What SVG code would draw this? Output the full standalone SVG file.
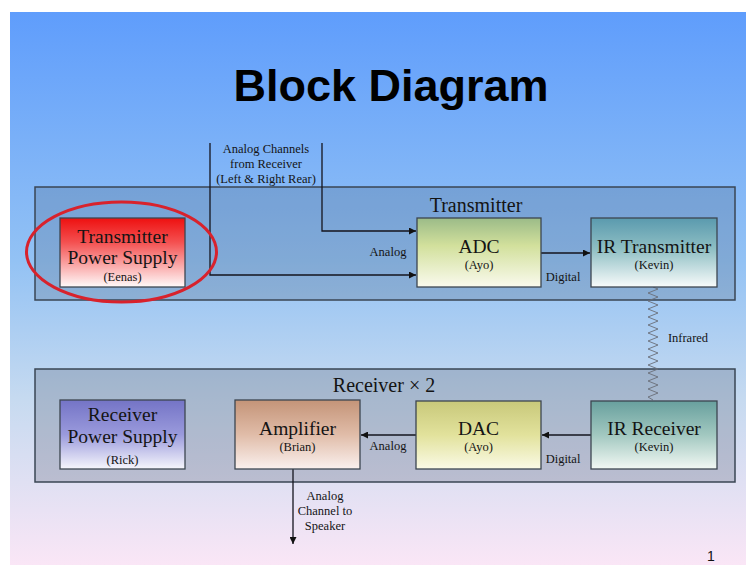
<svg xmlns="http://www.w3.org/2000/svg" width="746" height="565" viewBox="0 0 746 565">
<defs>
<linearGradient id="bg" x1="0" y1="0" x2="0" y2="1">
<stop offset="0" stop-color="#5f9dfc"/>
<stop offset="0.45" stop-color="#93c2f4"/>
<stop offset="0.7" stop-color="#c6daf0"/>
<stop offset="1" stop-color="#fae6f6"/>
</linearGradient>
<linearGradient id="gTPS" x1="0" y1="0" x2="0" y2="1">
<stop offset="0" stop-color="#ee1010"/>
<stop offset="0.35" stop-color="#f45050"/>
<stop offset="1" stop-color="#fffafa"/>
</linearGradient>
<linearGradient id="gADC" x1="0" y1="0" x2="0" y2="1">
<stop offset="0" stop-color="#9bbb88"/>
<stop offset="0.4" stop-color="#d2e09c"/>
<stop offset="1" stop-color="#fafaee"/>
</linearGradient>
<linearGradient id="gIRT" x1="0" y1="0" x2="0" y2="1">
<stop offset="0" stop-color="#5a9aae"/>
<stop offset="0.45" stop-color="#8fbfc4"/>
<stop offset="1" stop-color="#f8fbfb"/>
</linearGradient>
<linearGradient id="gRPS" x1="0" y1="0" x2="0" y2="1">
<stop offset="0" stop-color="#7474c6"/>
<stop offset="0.5" stop-color="#9a9adc"/>
<stop offset="1" stop-color="#f6f6fc"/>
</linearGradient>
<linearGradient id="gAMP" x1="0" y1="0" x2="0" y2="1">
<stop offset="0" stop-color="#c49478"/>
<stop offset="0.5" stop-color="#e0bca8"/>
<stop offset="1" stop-color="#faf0ee"/>
</linearGradient>
<linearGradient id="gDAC" x1="0" y1="0" x2="0" y2="1">
<stop offset="0" stop-color="#c8c87a"/>
<stop offset="0.5" stop-color="#e2e29c"/>
<stop offset="1" stop-color="#fafae6"/>
</linearGradient>
<linearGradient id="gIRR" x1="0" y1="0" x2="0" y2="1">
<stop offset="0" stop-color="#68a09e"/>
<stop offset="0.5" stop-color="#a2c8c0"/>
<stop offset="1" stop-color="#f2f8f4"/>
</linearGradient>
<marker id="ah" viewBox="0 0 10 10" refX="10" refY="5" markerWidth="7" markerHeight="7" markerUnits="userSpaceOnUse" orient="auto">
<path d="M0,0 L10,5 L0,10 z" fill="#111"/>
</marker>
<style>
.blk{stroke:#3c4650;stroke-width:1.3}
.grp{stroke:#3a4654;stroke-width:1.5}
.t{font-family:"Liberation Serif",serif;fill:#141414;text-anchor:middle}
.big{font-size:19.5px}
.sm{font-size:12.5px}
.lb{font-size:12.5px}
.grpt{font-size:20px}
.ln{fill:none;stroke:#14141e;stroke-width:1.3}
</style>
</defs>
<rect x="0" y="0" width="746" height="565" fill="#ffffff"/>
<rect x="10" y="12" width="736" height="553" fill="url(#bg)"/>
<text x="391" y="101" font-family="Liberation Sans, Arial, sans-serif" font-weight="bold" font-size="45" text-anchor="middle" fill="#000">Block Diagram</text>
<text x="711" y="561" font-family="Liberation Sans, Arial, sans-serif" font-size="14" text-anchor="middle" fill="#111">1</text>

<g id="transmitter-group">
<rect class="grp" x="35" y="187" width="700" height="113" fill="#3a4a60" fill-opacity="0.2"/>
<text class="t grpt" x="476" y="212">Transmitter</text>
</g>
<g id="receiver-group">
<rect class="grp" x="35" y="369" width="700" height="113" fill="#4a5468" fill-opacity="0.25"/>
<text class="t grpt" x="384" y="392">Receiver × 2</text>
</g>

<g id="connectors">
<polyline class="ln" points="210,143 210,275 416,275" marker-end="url(#ah)"/>
<polyline class="ln" points="322,143 322,231 416,231" marker-end="url(#ah)"/>
<line class="ln" x1="541" y1="253" x2="590" y2="253" marker-end="url(#ah)"/>
<line class="ln" x1="591" y1="435" x2="542" y2="435" marker-end="url(#ah)"/>
<line class="ln" x1="416" y1="435" x2="361" y2="435" marker-end="url(#ah)"/>
<line class="ln" x1="293" y1="469" x2="293" y2="544" marker-end="url(#ah)"/>
<polyline fill="none" stroke="#6a6e78" stroke-width="0.9" points="653,287 658,289 648,293 658,297 648,301 658,305 648,309 658,313 648,317 658,321 648,325 658,329 648,333 658,337 648,341 658,345 648,349 658,353 648,357 658,361 648,365 658,369 648,373 658,377 648,381 658,385 648,389 658,393 648,397 653,400"/>
<text class="t lb" x="266" y="153">Analog Channels</text>
<text class="t lb" x="266" y="168">from Receiver</text>
<text class="t lb" x="266" y="183">(Left &amp; Right Rear)</text>
<text class="t lb" x="388" y="256">Analog</text>
<text class="t lb" x="563" y="281">Digital</text>
<text class="t lb" x="688" y="342">Infrared</text>
<text class="t lb" x="563" y="463">Digital</text>
<text class="t lb" x="388" y="450">Analog</text>
<text class="t lb" x="325" y="500">Analog</text>
<text class="t lb" x="325" y="515">Channel to</text>
<text class="t lb" x="325" y="530">Speaker</text>
</g>

<g id="tx-power">
<rect class="blk" x="60" y="218" width="125" height="69" fill="url(#gTPS)"/>
<text class="t big" x="122.5" y="243">Transmitter</text>
<text class="t big" x="122.5" y="264">Power Supply</text>
<text class="t sm" x="122.5" y="281">(Eenas)</text>
<ellipse cx="121.5" cy="252" rx="95" ry="50" fill="none" stroke="#d8222c" stroke-width="3"/>
</g>
<g id="adc">
<rect class="blk" x="417" y="218" width="124" height="69" fill="url(#gADC)"/>
<text class="t big" x="479" y="253">ADC</text>
<text class="t sm" x="479" y="269">(Ayo)</text>
</g>
<g id="ir-transmitter">
<rect class="blk" x="591" y="218" width="126" height="69" fill="url(#gIRT)"/>
<text class="t big" x="654" y="253">IR Transmitter</text>
<text class="t sm" x="654" y="269">(Kevin)</text>
</g>
<g id="rx-power">
<rect class="blk" x="60" y="400" width="125" height="69" fill="url(#gRPS)"/>
<text class="t big" x="122.5" y="421">Receiver</text>
<text class="t big" x="122.5" y="443">Power Supply</text>
<text class="t sm" x="122.5" y="464">(Rick)</text>
</g>
<g id="amplifier">
<rect class="blk" x="235" y="400" width="125" height="69" fill="url(#gAMP)"/>
<text class="t big" x="297.5" y="435">Amplifier</text>
<text class="t sm" x="297.5" y="451">(Brian)</text>
</g>
<g id="dac">
<rect class="blk" x="416" y="401" width="125" height="68" fill="url(#gDAC)"/>
<text class="t big" x="478.5" y="435">DAC</text>
<text class="t sm" x="478.5" y="451">(Ayo)</text>
</g>
<g id="ir-receiver">
<rect class="blk" x="591" y="401" width="126" height="68" fill="url(#gIRR)"/>
<text class="t big" x="654" y="435">IR Receiver</text>
<text class="t sm" x="654" y="451">(Kevin)</text>
</g>
</svg>
